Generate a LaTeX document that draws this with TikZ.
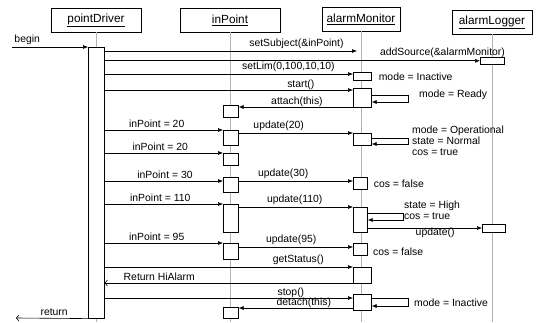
\documentclass[tikz,border=0pt]{standalone}
\usepackage{fontspec}
\setmainfont{Liberation Sans}
\usetikzlibrary{arrows.meta,positioning}
\newcommand\hdrfont{\fontsize{11.8}{13}\selectfont}
\newcommand\msgfont{\fontsize{10.4}{11}\selectfont}

\begin{document}
\begin{tikzpicture}[
x=1pt, y=-1pt,
obj/.style={draw, line width=.6pt, minimum height=24pt, font=\hdrfont},
act/.style={draw, line width=.6pt, fill=white, inner sep=0pt, anchor=north west},
life/.style={draw=black!30, line width=.5pt},
msg/.style={-{Latex[length=5pt,width=4pt]}, line width=.6pt},
ret/.style={-{Straight Barb[length=2.5pt,width=6pt]}, line width=.6pt},
lab/.style={font=\msgfont, inner sep=2.5pt},
note/.style={font=\msgfont, inner sep=1pt, anchor=west, align=left}
]
\useasboundingbox (0,0) rectangle (545,323);
% objects and lifelines
\node[obj, minimum width=90pt] (pd) at (96,20) {\underline{pointDriver}};
\node[obj, minimum width=100pt] (ip) at (230,20) {\underline{inPoint}};
\node[obj, minimum width=78pt] (am) at (361,19) {\underline{alarmMonitor}};
\node[obj, minimum width=80pt] (al) at (492,22) {\underline{alarmLogger}};
\draw[life] (pd.south) -- (pd.south |- 0,322);
\draw[life] (ip.south) -- (ip.south |- 0,322);
\draw[life] (am.south) -- (am.south |- 0,322);
\draw[life] (al.south) -- (al.south |- 0,322);
% activations
\node[act, minimum width=16pt, minimum height=271pt] (bar) at (88,47) {};
\node[act, minimum width=15pt, minimum height=12pt] (i1) at (223,105) {};
\node[act, minimum width=15pt, minimum height=15pt] (i2) at (223,130) {};
\node[act, minimum width=15pt, minimum height=12pt] (i3) at (223,153) {};
\node[act, minimum width=15pt, minimum height=15pt] (i4) at (223,177) {};
\node[act, minimum width=15pt, minimum height=28pt] (i5) at (223,204) {};
\node[act, minimum width=15pt, minimum height=16pt] (i6) at (223,243) {};
\node[act, minimum width=15pt, minimum height=11pt] (i7) at (223,307) {};
\node[act, minimum width=18pt, minimum height=8pt] (m1) at (353,72) {};
\node[act, minimum width=18pt, minimum height=19pt] (m2) at (353,88) {};
\node[act, minimum width=18pt, minimum height=12pt] (m3) at (353,133) {};
\node[act, minimum width=14pt, minimum height=12pt] (m4) at (353,177) {};
\node[act, minimum width=14pt, minimum height=25pt] (m5) at (353,207) {};
\node[act, minimum width=14pt, minimum height=12pt] (m6) at (353,243) {};
\node[act, minimum width=18pt, minimum height=16pt] (m7) at (353,267) {};
\node[act, minimum width=18pt, minimum height=16pt] (m8) at (353,294) {};
\node[act, minimum width=24pt, minimum height=7pt] (lg1) at (480,57) {};
\node[act, minimum width=23pt, minimum height=8pt] (lg2) at (482,224) {};
\coordinate (b0) at (12,47);
\coordinate (ss) at (357,51);
\coordinate (rt) at (16,318);
% messages
\draw[msg] (b0) -- node[lab, above, pos=.2]{begin} (bar.north west);
\draw[msg] (bar.east |- ss) -- node[lab, above, pos=.76]{setSubject(\&inPoint)} (ss);
\draw[msg] (bar.east |- lg1) -- node[lab, above, pos=.9]{addSource(\&alarmMonitor)} (lg1.west);
\draw[msg] (bar.east |- 0,74) -- node[lab, above, pos=.74]{setLim(0,100,10,10)} (m1.west |- 0,74);
\node[note, right=6pt of m1] {mode = Inactive};
\draw[msg] (bar.east |- 0,90) -- node[lab, above, inner sep=0pt, pos=.79]{start()} (m2.west |- 0,90);
\draw[msg] (m2.east |- 0,95) -- (408,95) -- (408,102) -- (m2.east |- 0,102);
\node[note] at (418,95) {mode = Ready};
\draw[msg] (m2.west |- 0,107) -- node[lab, above, inner sep=0pt, pos=.49]{attach(this)} (i1.east |- 0,107);
\draw[msg] (bar.east |- 0,130) -- node[lab, above, pos=.44]{inPoint = 20} (i2.west |- 0,130);
\draw[msg] (i2.east |- 0,133) -- node[lab, above, pos=.35]{update(20)} (m3.west |- 0,133);
\draw[msg] (m3.east |- 0,138) -- (408,138) -- (408,144) -- (m3.east |- 0,144);
\node[note] at (411,141) {mode = Operational\\state = Normal\\cos = true};
\draw[msg] (bar.east |- 0,153) -- node[lab, above, pos=.47]{inPoint = 20} (i3.west |- 0,153);
\draw[msg] (bar.east |- 0,181) -- node[lab, above, pos=.51]{inPoint = 30} (i4.west |- 0,181);
\draw[msg] (i4.east |- 0,181) -- node[lab, above, pos=.39]{update(30)} (m4.west |- 0,181);
\node[note, right=5pt of m4] {cos = false};
\draw[msg] (bar.east |- 0,204) -- node[lab, above, pos=.47]{inPoint = 110} (i5.west |- 0,204);
\draw[msg] (i5.east |- 0,207) -- node[lab, above, pos=.49]{update(110)} (m5.west |- 0,207);
\draw[msg] (m5.east |- 0,213) -- (403,213) -- (403,220) -- (m5.east |- 0,220);
\node[note] at (403,210.5) {state = High\\cos = true};
\draw[msg] (m5.east |- 0,228) -- node[lab, below, inner sep=0pt, pos=.59]{update()} (lg2.west |- 0,228);
\draw[msg] (bar.east |- 0,243) -- node[lab, above, pos=.44]{inPoint = 95} (i6.west |- 0,243);
\draw[msg] (i6.east |- 0,247) -- node[lab, above, pos=.46]{update(95)} (m6.west |- 0,247);
\node[note] at (372,252) {cos = false};
\draw[msg] (bar.east |- 0,267) -- node[lab, above, pos=.78]{getStatus()} (m7.north west);
\draw[ret] (m7.west |- 0,283) -- node[lab, above, pos=.78]{Return HiAlarm} (bar.east |- 0,283);
\draw[msg] (bar.east |- 0,298) -- node[lab, above, inner sep=0pt, pos=.75]{stop()} (m8.west |- 0,298);
\draw[msg] (m8.east |- 0,298) -- (408,298) -- (408,306) -- (m8.east |- 0,306);
\node[note] at (413,303) {mode = Inactive};
\draw[msg] (m8.west |- 0,308) -- node[lab, above, inner sep=0pt, pos=.43]{detach(this)} (i7.east |- 0,308);
\draw[ret] (bar.south west) -- node[lab, above, pos=.47]{return} (rt);
\end{tikzpicture}
\end{document}
